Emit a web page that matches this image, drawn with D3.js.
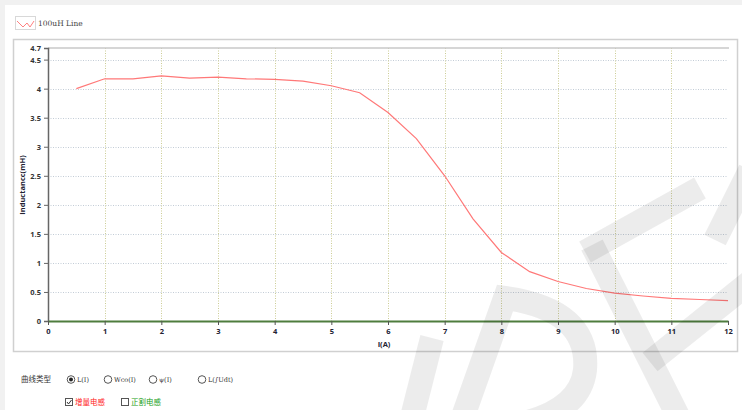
<!DOCTYPE html>
<html>
<head>
<meta charset="utf-8">
<script src="https://cdn.jsdelivr.net/npm/d3@7"></script>
<style>
  body { margin: 0; background: #fff; }
  svg { display: block; }
</style>
</head>
<body>
<div id="thediv"></div>
<script>
// data
var current = [0.5, 1, 1.5, 2, 2.5, 3, 3.5, 4, 4.5, 5, 5.5, 6, 6.5, 7, 7.5, 8, 8.5, 9, 9.5, 10, 10.5, 11, 11.5, 12];
var inductance = [4.0, 4.17, 4.17, 4.22, 4.18, 4.2, 4.17, 4.16, 4.13, 4.05, 3.93, 3.59, 3.14, 2.5, 1.76, 1.18, 0.85, 0.68, 0.56, 0.48, 0.43, 0.39, 0.37, 0.35];
var yTicks = [0, 0.5, 1, 1.5, 2, 2.5, 3, 3.5, 4, 4.5, 4.7];
var xTicks = [0, 1, 2, 3, 4, 5, 6, 7, 8, 9, 10, 11, 12];
var xGrid = [1, 2, 3, 4, 5, 6, 7, 8, 9, 10, 11];
var yGrid = [0.5, 1, 1.5, 2, 2.5, 3, 3.5, 4, 4.5];
var seriesName = '100uH Line';
var curveTypes = ['L(I)', 'Wco(I)', 'ψ(I)', 'L(∫Udt)'];
var inductTypes = [{name: '增量电感', color: '#ff2020', checked: true}, {name: '正割电感', color: '#20a020', checked: false}];

var W = 742, H = 410;
var svg = d3.select('#thediv').append('svg').attr('width', W).attr('height', H);

// page edges
svg.append('rect').attr('x', 0).attr('y', 0).attr('width', W).attr('height', 5).attr('fill', '#f1f1f1');
svg.append('rect').attr('x', 0).attr('y', 0).attr('width', 5).attr('height', H).attr('fill', '#f1f1f1');

// legend
svg.append('rect').attr('x', 15.5).attr('y', 16.5).attr('width', 20).attr('height', 13)
  .attr('fill', '#fff').attr('stroke', '#d8d8d8');
svg.append('polyline').attr('points', '17,21 23,27 27,23 30,27 34,21')
  .attr('fill', 'none').attr('stroke', '#ff8080').attr('stroke-width', 1);
svg.append('text').attr('x', 38).attr('y', 26).text(seriesName)
  .attr('font-family', 'DejaVu Serif').attr('font-size', 7.5).attr('fill', '#444');

// chart panel
svg.append('rect').attr('x', 13.5).attr('y', 39.5).attr('width', 724).attr('height', 312)
  .attr('fill', '#fff').attr('stroke', '#d0d0d0').attr('stroke-width', 1.5);

var x = d3.scaleLinear().domain([0, 12]).range([48, 728]);
var y = d3.scaleLinear().domain([0, 4.7]).range([321, 48]);

// grid
svg.selectAll('.hgrid').data(yGrid).enter().append('line').attr('class', 'hgrid')
  .attr('x1', x(0)).attr('x2', x(12))
  .attr('y1', function(d){ return Math.round(y(d)) + 0.5; })
  .attr('y2', function(d){ return Math.round(y(d)) + 0.5; })
  .attr('stroke', '#c3ccd6').attr('stroke-dasharray', '1,1.5');
svg.selectAll('.vgrid').data(xGrid).enter().append('line').attr('class', 'vgrid')
  .attr('x1', function(d){ return Math.round(x(d)) + 0.5; })
  .attr('x2', function(d){ return Math.round(x(d)) + 0.5; })
  .attr('y1', y(4.7)).attr('y2', y(0))
  .attr('stroke', '#cccc94').attr('stroke-dasharray', '1,1.5');

// top border of plot
svg.append('line').attr('x1', x(0)).attr('x2', x(12) + 1).attr('y1', y(4.7)).attr('y2', y(4.7))
  .attr('stroke', '#c8c8c8').attr('stroke-width', 1.5);

// axes
var yAxis = svg.append('g').attr('transform', 'translate(' + x(0) + ',0)')
  .call(d3.axisLeft(y).tickValues(yTicks).tickSize(4).tickPadding(3)
    .tickFormat(function(d){ return d; }));
yAxis.select('.domain').attr('stroke', '#666').attr('stroke-width', 1.5);
yAxis.selectAll('.tick line').attr('stroke', '#666');
yAxis.selectAll('text').attr('font-family', 'Open Sans').attr('font-weight', 'bold')
  .attr('font-size', 7.5).attr('fill', '#333');

var xAxis = svg.append('g').attr('transform', 'translate(0,' + y(0) + ')')
  .call(d3.axisBottom(x).tickValues(xTicks).tickSize(4).tickPadding(4).tickSizeOuter(0));
xAxis.select('.domain').attr('stroke', '#4e7d3e').attr('stroke-width', 2);
xAxis.selectAll('.tick line').attr('stroke', '#555');
xAxis.selectAll('text').attr('font-family', 'Open Sans').attr('font-weight', 'bold')
  .attr('font-size', 7.5).attr('fill', '#223');

svg.append('text').attr('x', 384).attr('y', 347).attr('text-anchor', 'middle').text('I(A)')
  .attr('font-family', 'Open Sans').attr('font-weight', 'bold').attr('font-size', 7.5).attr('fill', '#223');
svg.append('text').attr('transform', 'translate(25,185) rotate(-90)').attr('text-anchor', 'middle')
  .text('Inductancc(mH)')
  .attr('font-family', 'Open Sans').attr('font-weight', 'bold').attr('font-size', 7.5).attr('fill', '#223');

// curve
var line = d3.line().x(function(d, i){ return x(current[i]); }).y(function(d){ return y(d); });
svg.append('path').datum(inductance).attr('d', line)
  .attr('fill', 'none').attr('stroke', '#ff7878').attr('stroke-width', 1.2);

// watermark
var wm = svg.append('g').attr('fill', 'none').attr('stroke', '#000').attr('stroke-opacity', 0.075)
  .attr('stroke-width', 24);
wm.append('path').attr('d', 'M 410 425 L 432 338');
wm.append('path').attr('d', 'M 460 425 L 505 298 Q 590 310 585 370 Q 580 412 515 425');
wm.append('path').attr('d', 'M 585 252 L 700 188');
wm.append('path').attr('d', 'M 592 245 L 680 420');
wm.append('path').attr('d', 'M 650 362 L 750 282');
wm.append('path').attr('d', 'M 715 240 L 750 170');

// controls
var ctl = svg.append('g').attr('font-family', 'Noto Sans CJK SC').attr('font-size', 7.5);
ctl.append('text').attr('x', 21).attr('y', 382).text('曲线类型').attr('fill', '#333');
var radioX = [71, 108, 153, 202];
var radios = ctl.selectAll('.radio').data(curveTypes).enter().append('g').attr('class', 'radio')
  .attr('transform', function(d, i){ return 'translate(' + radioX[i] + ',379.5)'; });
radios.append('circle').attr('r', 3.8).attr('fill', '#fff').attr('stroke', '#555');
radios.filter(function(d, i){ return i === 0; }).append('circle').attr('r', 2).attr('fill', '#222');
radios.append('text').attr('x', 6).attr('y', 2.5).text(function(d){ return d; })
  .attr('font-family', 'DejaVu Serif').attr('font-size', 6.5).attr('fill', '#333');

var checkX = [69, 125];
var checks = ctl.selectAll('.check').data(inductTypes).enter().append('g').attr('class', 'check')
  .attr('transform', function(d, i){ return 'translate(' + checkX[i] + ',402)'; });
checks.append('rect').attr('x', -3.5).attr('y', -3.5).attr('width', 7).attr('height', 7)
  .attr('fill', '#fff').attr('stroke', '#555');
checks.filter(function(d){ return d.checked; }).append('path').attr('d', 'M -2 0 L -0.5 2 L 2.5 -2')
  .attr('fill', 'none').attr('stroke', '#333').attr('stroke-width', 1);
checks.append('text').attr('x', 6).attr('y', 3).text(function(d){ return d.name; })
  .attr('fill', function(d){ return d.color; });
</script>
</body>
</html>
